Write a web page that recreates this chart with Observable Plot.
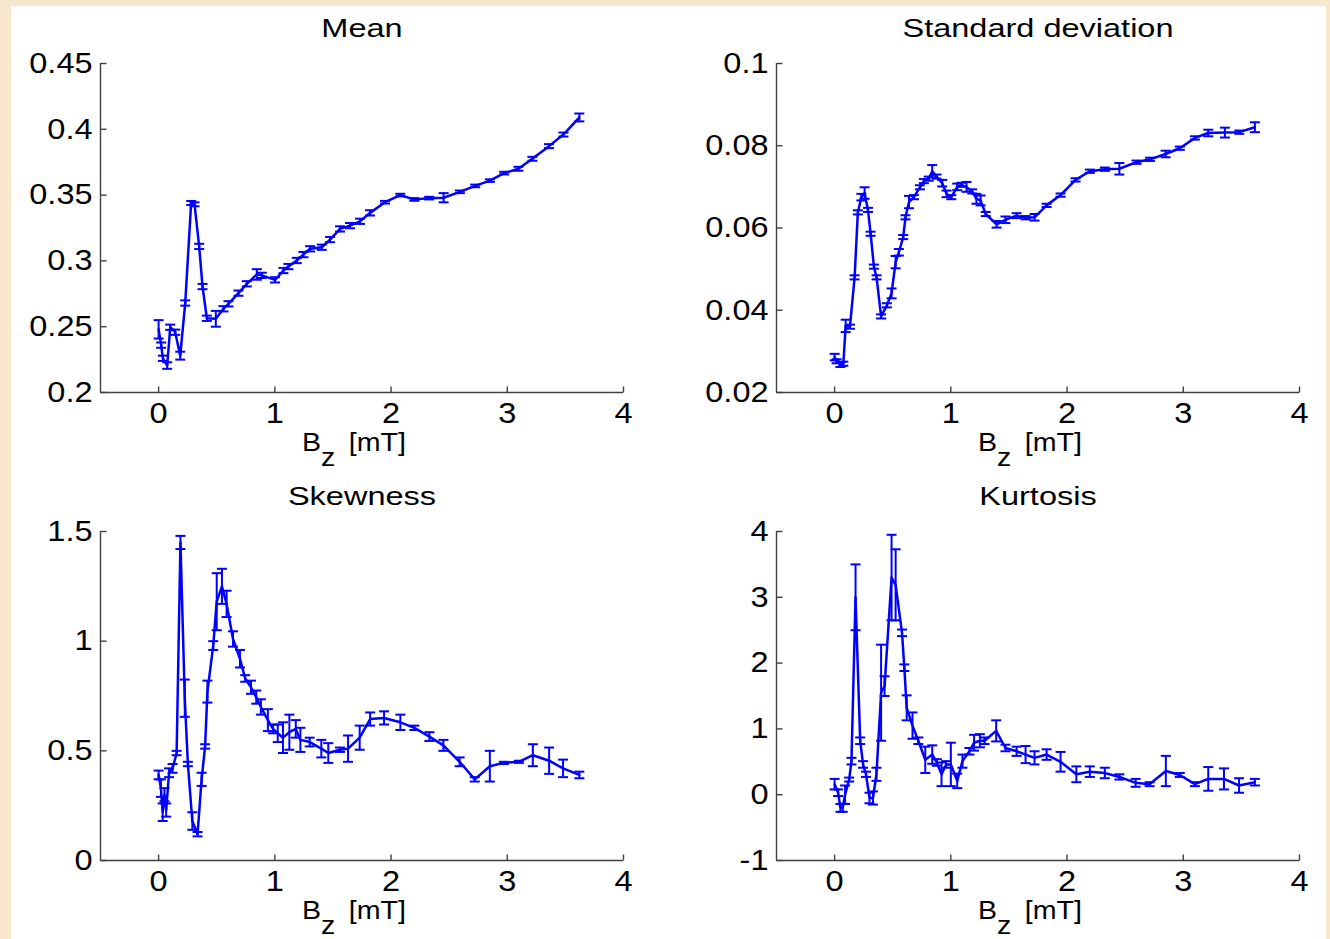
<!DOCTYPE html>
<html>
<head>
<meta charset="utf-8">
<script src="https://cdn.jsdelivr.net/npm/d3@7"></script>
<script src="https://cdn.jsdelivr.net/npm/@observablehq/plot@0.6"></script>
<style>
  html, body { margin: 0; padding: 0; background: #f7e8cd; }
  #fig { position: relative; width: 1330px; height: 939px; overflow: hidden;
         background: #f7e8cd; font-family: "Liberation Sans", Arial, sans-serif; color: #000; }
  #sheet { position: absolute; left: 11px; top: 6px; width: 1315px; height: 933px; background: #fff; }
  .panel { position: absolute; }
  .title { position: absolute; white-space: nowrap; font-size: 25px; line-height: 1;
           transform-origin: center top; transform: translateX(-50%) scaleX(1.3); }
  .xlabel { position: absolute; white-space: nowrap; font-size: 26px; line-height: 1;
            transform-origin: left top; transform: scaleX(1.1); }
  .xlabel .sub { position: relative; top: 15px; margin-right: 5px; }
</style>
</head>
<body>
<div id="fig"><div id="sheet"></div></div>
<script>
// Shared horizontal axis: applied field Bz in mT
const xLimits = [-0.5, 4];
const xTicks = [0, 1, 2, 3, 4];

// Mean
const meanBz = [0, 0.022, 0.037, 0.074, 0.10, 0.143, 0.186, 0.229, 0.28, 0.309, 0.349, 0.378, 0.415, 0.492, 0.558,
  0.601, 0.687, 0.759, 0.845, 0.888, 1.002, 1.074, 1.117, 1.189, 1.246, 1.303, 1.404, 1.475, 1.561, 1.647,
  1.733, 1.819, 1.948, 2.079, 2.2, 2.328, 2.452, 2.592, 2.724, 2.85, 2.973, 3.096, 3.216, 3.359, 3.483, 3.62];
const meanVal = [0.248, 0.236, 0.226, 0.2205, 0.2496, 0.2458, 0.228, 0.268, 0.344, 0.343, 0.311, 0.2805, 0.2564, 0.256, 0.2636,
  0.2674, 0.2755, 0.2826, 0.2897, 0.289, 0.2856, 0.2927, 0.2957, 0.3003, 0.3048, 0.3092, 0.3104, 0.3162, 0.3243, 0.3268,
  0.3301, 0.3365, 0.3446, 0.350, 0.3467, 0.3477, 0.348, 0.3525, 0.357, 0.361, 0.3667, 0.370, 0.3776, 0.3872, 0.396, 0.409];
const meanErr = [0.007, 0.002, 0.002, 0.0025, 0.002, 0.002, 0.003, 0.002, 0.0015, 0.0015, 0.002, 0.002, 0.002, 0.006, 0.002,
  0.002, 0.002, 0.002, 0.004, 0.002, 0.002, 0.002, 0.002, 0.002, 0.002, 0.002, 0.002, 0.002, 0.002, 0.002,
  0.002, 0.002, 0.001, 0.001, 0.001, 0.001, 0.0035, 0.001, 0.001, 0.001, 0.001, 0.0015, 0.0015, 0.0015, 0.0015, 0.003];
const meanLimits = [0.2, 0.45];
const meanTicks = [0.2, 0.25, 0.3, 0.35, 0.4, 0.45];

// Standard deviation
const sdBz = [0, 0.017, 0.05, 0.075, 0.095, 0.132, 0.172, 0.2, 0.23, 0.258, 0.287, 0.31, 0.338, 0.361, 0.40,
  0.45, 0.49, 0.525, 0.553, 0.59, 0.61, 0.64, 0.682, 0.734, 0.768, 0.81, 0.84, 0.877, 0.926, 0.963,
  1.004, 1.055, 1.092, 1.135, 1.184, 1.22, 1.256, 1.30, 1.394, 1.47, 1.566, 1.643, 1.72, 1.824, 1.944,
  2.073, 2.196, 2.325, 2.45, 2.598, 2.713, 2.848, 2.97, 3.10, 3.215, 3.358, 3.482, 3.616];
const sdVal = [0.0286, 0.0276, 0.0268, 0.027, 0.0362, 0.036, 0.048, 0.0638, 0.0675, 0.0685, 0.0644, 0.0586, 0.0506, 0.048, 0.0385,
  0.0412, 0.0441, 0.0517, 0.0541, 0.0578, 0.0626, 0.0663, 0.0675, 0.0699, 0.0714, 0.072, 0.0738, 0.0725, 0.0709, 0.0683,
  0.0675, 0.070, 0.0705, 0.070, 0.0689, 0.0671, 0.0667, 0.0634, 0.0609, 0.062, 0.063, 0.0625, 0.0626, 0.0655, 0.068,
  0.0717, 0.0738, 0.0743, 0.0744, 0.076, 0.0767, 0.078, 0.0794, 0.0819, 0.0831, 0.0832, 0.0833, 0.0845];
const sdErr = [0.0008, 0.0005, 0.0006, 0.0005, 0.0015, 0.0005, 0.0005, 0.0005, 0.0008, 0.0014, 0.0005, 0.0005, 0.0005, 0.0005, 0.0005,
  0.0005, 0.0012, 0.0015, 0.0008, 0.0005, 0.0005, 0.0015, 0.0005, 0.0005, 0.0005, 0.0005, 0.0015, 0.0005, 0.0008, 0.0008,
  0.0005, 0.0008, 0.0005, 0.0012, 0.0005, 0.0012, 0.0012, 0.0005, 0.0008, 0.0008, 0.0006, 0.0004, 0.0008, 0.0004, 0.0004,
  0.0004, 0.0004, 0.0004, 0.0014, 0.0004, 0.0004, 0.0008, 0.0004, 0.0004, 0.0008, 0.0012, 0.0004, 0.0012];
const sdLimits = [0.02, 0.1];
const sdTicks = [0.02, 0.04, 0.06, 0.08, 0.1];

// Skewness
const skBz = [0, 0.02, 0.035, 0.05, 0.065, 0.09, 0.12, 0.155, 0.188, 0.225, 0.252, 0.29, 0.335, 0.37, 0.40,
  0.42, 0.47, 0.50, 0.545, 0.585, 0.64, 0.70, 0.745, 0.795, 0.84, 0.88, 0.94, 0.985, 1.025, 1.07,
  1.125, 1.18, 1.22, 1.30, 1.40, 1.46, 1.56, 1.63, 1.73, 1.82, 1.94, 2.08, 2.20, 2.33, 2.45,
  2.59, 2.72, 2.85, 2.97, 3.10, 3.22, 3.36, 3.48, 3.62];
const skVal = [0.39, 0.33, 0.22, 0.30, 0.23, 0.40, 0.42, 0.49, 1.45, 0.74, 0.44, 0.18, 0.12, 0.37, 0.52,
  0.77, 0.98, 1.18, 1.25, 1.17, 1.01, 0.92, 0.83, 0.79, 0.745, 0.70, 0.64, 0.60, 0.58, 0.56,
  0.585, 0.60, 0.55, 0.54, 0.51, 0.49, 0.505, 0.51, 0.56, 0.645, 0.65, 0.63, 0.605, 0.565, 0.525,
  0.45, 0.37, 0.43, 0.445, 0.45, 0.48, 0.455, 0.42, 0.39];
const skErr = [0.02, 0.04, 0.04, 0.03, 0.03, 0.02, 0.02, 0.01, 0.03, 0.085, 0.01, 0.04, 0.01, 0.03, 0.01,
  0.05, 0.02, 0.13, 0.08, 0.06, 0.035, 0.04, 0.015, 0.03, 0.03, 0.035, 0.05, 0.02, 0.04, 0.07,
  0.08, 0.04, 0.055, 0.02, 0.04, 0.045, 0.01, 0.06, 0.055, 0.03, 0.03, 0.035, 0.01, 0.02, 0.025,
  0.02, 0.01, 0.07, 0.005, 0.005, 0.05, 0.06, 0.04, 0.015];
const skLimits = [0, 1.5];
const skTicks = [0, 0.5, 1, 1.5];

// Kurtosis
const kuBz = [0, 0.03, 0.05, 0.07, 0.09, 0.125, 0.145, 0.18, 0.22, 0.245, 0.27, 0.30, 0.33, 0.36, 0.40,
  0.43, 0.49, 0.525, 0.58, 0.60, 0.62, 0.67, 0.72, 0.78, 0.84, 0.88, 0.92, 0.96, 1.0, 1.055,
  1.10, 1.16, 1.20, 1.25, 1.29, 1.39, 1.47, 1.566, 1.643, 1.72, 1.824, 1.944, 2.08, 2.196, 2.325,
  2.45, 2.59, 2.71, 2.85, 2.97, 3.10, 3.215, 3.35, 3.48, 3.616];
const kuVal = [0.16, 0.03, -0.2, -0.2, 0.0, 0.23, 0.51, 3.0, 0.82, 0.46, 0.31, -0.05, -0.05, 0.31, 1.55,
  1.65, 3.3, 3.19, 2.46, 1.93, 1.32, 1.05, 0.82, 0.53, 0.61, 0.49, 0.31, 0.46, 0.46, 0.21,
  0.51, 0.66, 0.79, 0.82, 0.82, 0.97, 0.71, 0.66, 0.61, 0.56, 0.61, 0.50, 0.31, 0.35, 0.33,
  0.27, 0.18, 0.16, 0.36, 0.30, 0.16, 0.24, 0.24, 0.14, 0.19];
const kuErr = [0.08, 0.05, 0.06, 0.06, 0.14, 0.03, 0.05, 0.5, 0.05, 0.05, 0.04, 0.08, 0.1, 0.1, 0.73,
  0.15, 0.65, 0.54, 0.05, 0.05, 0.19, 0.2, 0.05, 0.2, 0.14, 0.05, 0.18, 0.05, 0.33, 0.11,
  0.1, 0.05, 0.12, 0.1, 0.05, 0.16, 0.05, 0.07, 0.13, 0.1, 0.08, 0.15, 0.12, 0.08, 0.08,
  0.04, 0.06, 0.03, 0.23, 0.03, 0.03, 0.18, 0.16, 0.11, 0.05];
const kuLimits = [-1, 4];
const kuTicks = [-1, 0, 1, 2, 3, 4];

// Styling
const BLUE = "#0000ff";
const AXIS = "#404040";
const FONT = '"Liberation Sans", Arial, sans-serif';

// Small stroke-only symbols: error-bar cap, inward axis ticks
const half = size => Math.sqrt(size / Math.PI);
const capSymbol = { draw(ctx, size) { const r = half(size); ctx.moveTo(-r, 0); ctx.lineTo(r, 0); } };
const tickRight = { draw(ctx, size) { const r = half(size); ctx.moveTo(0, 0); ctx.lineTo(r, 0); } };
const tickUp = { draw(ctx, size) { const r = half(size); ctx.moveTo(0, 0); ctx.lineTo(0, -r); } };

// Axes boxes on the page (pixels)
const frames = {
  mean: { x0: 100, x1: 623, y0: 63, y1: 392 },
  sd:   { x0: 776, x1: 1299, y0: 63, y1: 392 },
  sk:   { x0: 100, x1: 623, y0: 531, y1: 860 },
  ku:   { x0: 776, x1: 1299, y0: 531, y1: 860 }
};

const panels = [
  { title: "Mean", bz: meanBz, val: meanVal, err: meanErr, limits: meanLimits, ticks: meanTicks, frame: frames.mean },
  { title: "Standard deviation", bz: sdBz, val: sdVal, err: sdErr, limits: sdLimits, ticks: sdTicks, frame: frames.sd },
  { title: "Skewness", bz: skBz, val: skVal, err: skErr, limits: skLimits, ticks: skTicks, frame: frames.sk },
  { title: "Kurtosis", bz: kuBz, val: kuVal, err: kuErr, limits: kuLimits, ticks: kuTicks, frame: frames.ku }
];

const fig = document.getElementById("fig");

function drawPanel({ title, bz, val, err, limits, ticks, frame }) {
  const rows = bz.map((b, i) => ({ b, v: val[i], e: err[i] }));
  const m = { left: 95, right: 30, top: 30, bottom: 40 };
  const axisStyle = { stroke: AXIS, strokeWidth: 1.4 };
  const svg = Plot.plot({
    width: frame.x1 - frame.x0 + m.left + m.right,
    height: frame.y1 - frame.y0 + m.top + m.bottom,
    marginLeft: m.left, marginRight: m.right, marginTop: m.top, marginBottom: m.bottom,
    style: { background: "transparent", overflow: "visible", color: "#000", fontFamily: FONT },
    x: { domain: xLimits, axis: null },
    y: { domain: limits, axis: null },
    marks: [
      // left and bottom spines with inward ticks
      Plot.ruleX([xLimits[0]], axisStyle),
      Plot.ruleY([limits[0]], axisStyle),
      Plot.dot(ticks, { y: d => d, frameAnchor: "left", symbol: tickRight, r: 6, fill: "none", ...axisStyle }),
      Plot.dot(xTicks, { x: d => d, frameAnchor: "bottom", symbol: tickUp, r: 6, fill: "none", ...axisStyle }),
      Plot.axisY(ticks, { anchor: "left", tickSize: 0, tickPadding: 8, fontSize: 29, tickFormat: d => String(d), label: null }),
      Plot.axisX(xTicks, { anchor: "bottom", tickSize: 0, tickPadding: 10, fontSize: 29, tickFormat: d => String(d), label: null }),
      // error bars
      Plot.ruleX(rows, { x: "b", y1: d => d.v - d.e, y2: d => d.v + d.e, stroke: BLUE, strokeWidth: 2 }),
      Plot.dot(rows, { x: "b", y: d => d.v - d.e, symbol: capSymbol, r: 5, fill: "none", stroke: BLUE, strokeWidth: 2 }),
      Plot.dot(rows, { x: "b", y: d => d.v + d.e, symbol: capSymbol, r: 5, fill: "none", stroke: BLUE, strokeWidth: 2 }),
      // series line
      Plot.line(rows, { x: "b", y: "v", stroke: BLUE, strokeWidth: 2.5 })
    ]
  });
  svg.classList.add("panel");
  svg.style.left = (frame.x0 - m.left) + "px";
  svg.style.top = (frame.y0 - m.top) + "px";
  fig.appendChild(svg);

  // slightly wide tick numerals
  svg.querySelectorAll('g[aria-label$="tick label"] text').forEach(t => {
    const w = t.getComputedTextLength();
    t.setAttribute("textLength", (w * 1.12).toFixed(1));
    t.setAttribute("lengthAdjust", "spacingAndGlyphs");
  });

  const t = document.createElement("div");
  t.className = "title";
  t.textContent = title;
  t.style.left = ((frame.x0 + frame.x1) / 2) + "px";
  t.style.top = (frame.y0 - 47) + "px";
  fig.appendChild(t);

  const xl = document.createElement("div");
  xl.className = "xlabel";
  xl.innerHTML = 'B<span class="sub">z</span> [mT]';
  xl.style.left = (frame.x0 + 202) + "px";
  xl.style.top = (frame.y1 + 37) + "px";
  fig.appendChild(xl);
}

panels.forEach(drawPanel);
</script>
</body>
</html>
